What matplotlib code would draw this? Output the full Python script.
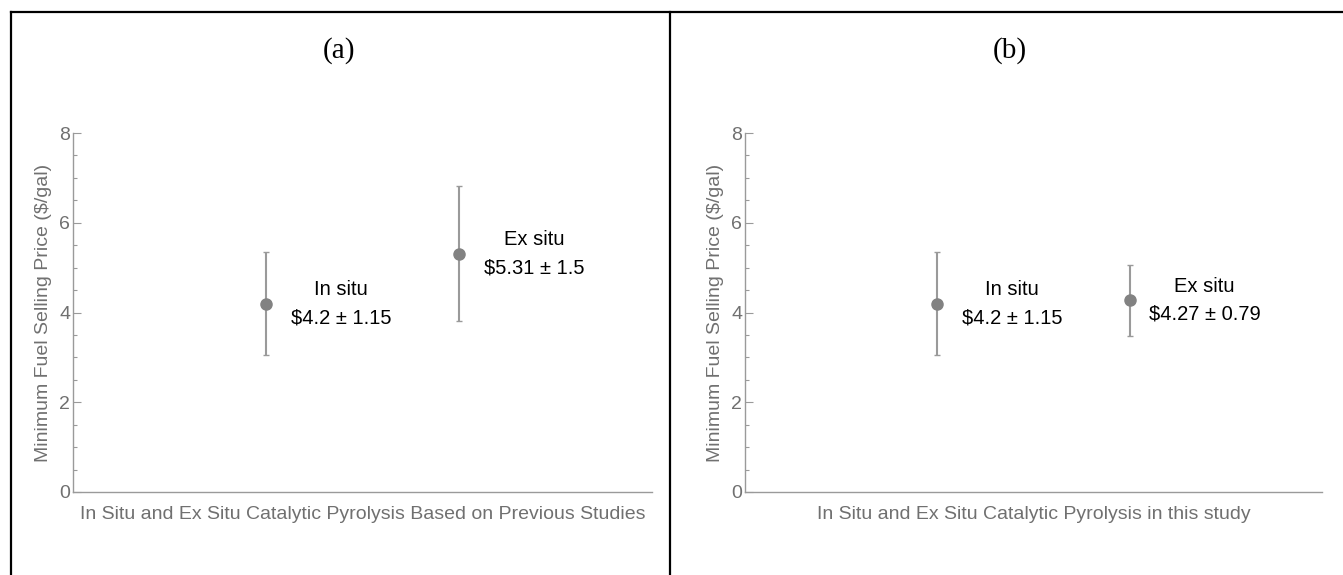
import matplotlib
matplotlib.use("Agg")
import matplotlib.pyplot as plt
from matplotlib.lines import Line2D

# data
categories = ["In situ", "Ex situ"]
positions = [1, 2]
mfsp_previous = [4.2, 5.31]
err_previous = [1.15, 1.5]
mfsp_this_study = [4.2, 4.27]
err_this_study = [1.15, 0.79]

panel_titles = ["(a)", "(b)"]
xlabels = ["In Situ and Ex Situ Catalytic Pyrolysis Based on Previous Studies",
           "In Situ and Ex Situ Catalytic Pyrolysis in this study"]
ylabel = "Minimum Fuel Selling Price ($/gal)"

plt.rcParams['font.family'] = ['Liberation Sans', 'DejaVu Sans']

W, H = 1343, 575
fig = plt.figure(figsize=(W / 100, H / 100), dpi=100)

axis_gray = "#9a9a9a"
tick_gray = "#707070"
point_gray = "#828282"
bar_gray = "#9a9a9a"

ax_a = fig.add_axes([73 / W, 1 - 492 / H, 579 / W, 359 / H])
ax_b = fig.add_axes([745 / W, 1 - 492 / H, 577 / W, 359 / H])

for ax, vals, errs, xl in [(ax_a, mfsp_previous, err_previous, xlabels[0]),
                           (ax_b, mfsp_this_study, err_this_study, xlabels[1])]:
    ax.errorbar(positions, vals, yerr=errs, fmt='o', color=point_gray,
                ecolor=bar_gray, elinewidth=1.5, capsize=2.5, capthick=1.0,
                markersize=8)
    for x, v, e, name in zip(positions, vals, errs, categories):
        ax.text(x + 0.39, v, f"{name}\n${v:g} ± {e:g}", ha='center', va='center',
                fontsize=14.5, linespacing=1.6, color='black')
    ax.set_xlim(0, 3)
    ax.set_ylim(0, 8)
    ax.set_xticks([])
    ax.set_yticks([0, 2, 4, 6, 8])
    ax.set_yticks([0.5 * i for i in range(17)], minor=True)
    ax.tick_params(axis='y', which='major', direction='in', length=6, width=0.8,
                   color=axis_gray, labelcolor=tick_gray, labelsize=14, pad=2)
    ax.tick_params(axis='y', which='minor', direction='in', length=3, width=0.8,
                   color=axis_gray)
    for s in ['top', 'right']:
        ax.spines[s].set_visible(False)
    for s in ['left', 'bottom']:
        ax.spines[s].set_color(axis_gray)
        ax.spines[s].set_linewidth(1.0)
    ax.set_xlabel(xl, fontsize=14, color=tick_gray, labelpad=10)
    ax.set_ylabel(ylabel, fontsize=14, color=tick_gray, labelpad=5)

# panel titles
fig.text(339 / W, 1 - 51 / H, panel_titles[0], family='Liberation Serif',
         fontsize=21, ha='center', va='center')
fig.text(1010 / W, 1 - 51 / H, panel_titles[1], family='Liberation Serif',
         fontsize=21, ha='center', va='center')

# panel borders
border = dict(color='black', linewidth=1.6, transform=fig.transFigure)
fig.add_artist(Line2D([11 / W, 1], [1 - 12 / H, 1 - 12 / H], **border))
fig.add_artist(Line2D([11 / W, 11 / W], [0, 1 - 12 / H], **border))
fig.add_artist(Line2D([670 / W, 670 / W], [0, 1 - 12 / H], **border))

fig.savefig("out.png", dpi=100)
